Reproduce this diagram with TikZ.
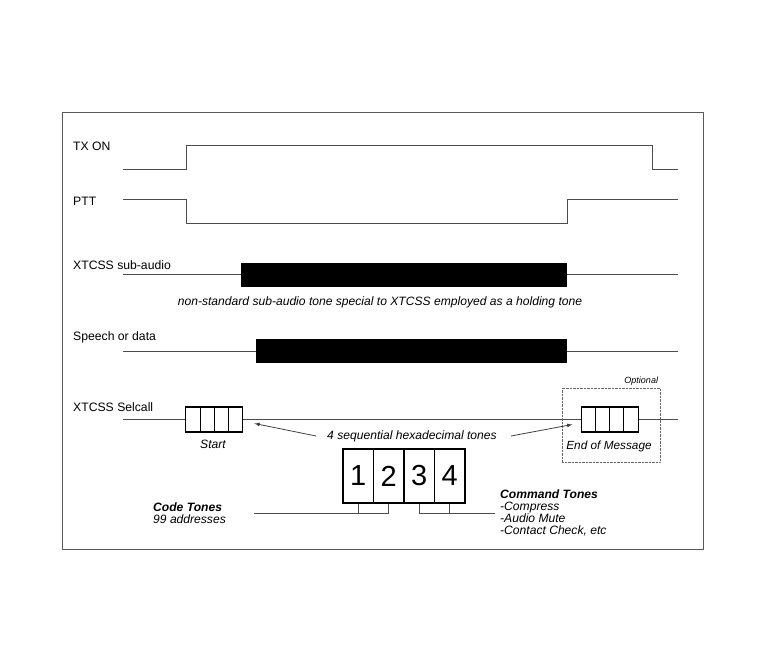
\documentclass[tikz,border=0pt]{standalone}
\usepackage{fontspec}
\setmainfont{Liberation Sans}
\begin{document}
\begin{tikzpicture}[x=1pt,y=-1pt,
  sig/.style={draw=black!70, line width=1pt},
  lbl/.style={anchor=west, inner sep=0pt, font=\fontsize{12.2}{14}\selectfont},
  note/.style={inner sep=0pt, font=\fontsize{12.1}{11.9}\selectfont\itshape},
  cell/.style={draw, fill=white, line width=1.1pt, minimum width=14.25pt, minimum height=25pt, inner sep=0pt},
  digit/.style={draw, line width=1.1pt, minimum width=30.5pt, minimum height=54pt, inner sep=0pt, font=\fontsize{29}{30}\selectfont}]
\useasboundingbox (0,0) rectangle (768,669);
\draw[black!65, line width=0.8pt] (62,112) rectangle (703,549);

\node[lbl] (tx) at (73,146) {TX ON};
\node[lbl] (ptt) at (73,201) {PTT};
\node[lbl] (sub) at (73,265) {XTCSS sub-audio};
\node[lbl] (sp) at (73,337) {Speech or data};
\node[lbl] (sel) at (73,407) {XTCSS Selcall};

\path[sig] (123,169) -- (186,169) -- (186,145) -- (652,145) -- (652,169) -- (678,169);
\path[sig] (123,199) -- (186,199) -- (186,223) -- (567,223) -- (567,199) -- (678,199);
\path[sig] (123,274) -- (678,274);
\path[sig] (123,351) -- (678,351);
\path[sig] (123,419) -- (678,419);

\fill (241,263) rectangle (567,287);
\fill (256,339) rectangle (567,363);
\node[note] (cap) at (380,302) {non-standard sub-audio tone special to XTCSS employed as a holding tone};

\node[draw=black!60, densely dotted, minimum width=98pt, minimum height=74pt] (opt) at (611,425) {};
\node[inner sep=0pt, anchor=south east, font=\fontsize{9}{10}\selectfont\itshape] (optl) at ([shift={(-2,-2)}]opt.north east) {Optional};

\foreach \i in {1,...,4} \node[cell] (s\i) at (178.75+14.25*\i,419.5) {};
\foreach \i in {1,...,4} \node[cell] (e\i) at (575+14*\i,419.5) {};
\node[note] (start) at (213,444) {Start};
\node[note, font=\fontsize{11.8}{13}\selectfont\itshape] (eom) at (609,446) {End of Message};

\node[note] (seq) at (412,436) {4 sequential hexadecimal tones};
\path[draw,black!75,line width=0.8pt,->,>=latex] ([xshift=-11pt]seq.west) -- ([shift={(11,4)}]s4.east);
\path[draw,black!75,line width=0.8pt,->,>=latex] ([xshift=14pt]seq.east) -- ([shift={(-9,5)}]e1.west);

\foreach \d in {1,...,4} \node[digit] (d\d) at (327.75+30.5*\d,476) {\d};

\coordinate (cl) at (254,513);
\coordinate (cr) at (495,513);
\path[sig] (cl) -- (cl -| d2.south) -- (d2.south);
\path[sig] (cl -| d1.south) -- (d1.south);
\path[sig] (cr) -- (cr -| d3.south) -- (d3.south);
\path[sig] (cr -| d4.south) -- (d4.south);

\node[note, anchor=north west, align=left] (code) at (153,502.4) {\textbf{Code Tones}\\99 addresses};
\node[note, anchor=north west, align=left] (cmd) at (500,489.4) {\textbf{Command Tones}\\-Compress\\-Audio Mute\\-Contact Check, etc};
\end{tikzpicture}
\end{document}
